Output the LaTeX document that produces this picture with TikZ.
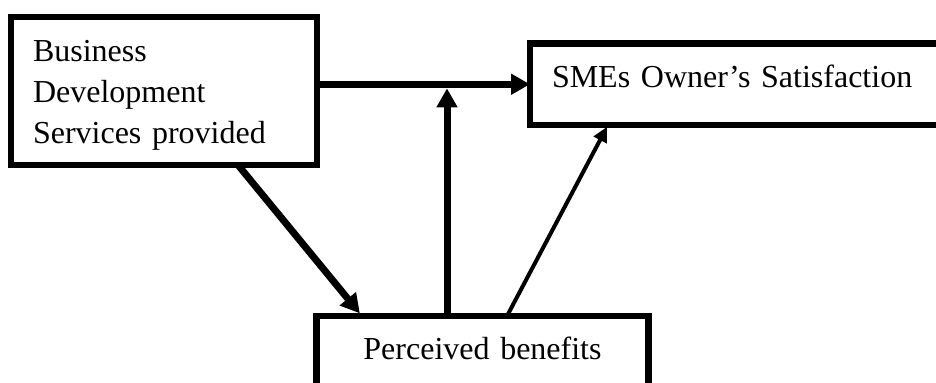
\documentclass[tikz,border=0pt]{standalone}
\usepackage{fontspec}
\setmainfont{Liberation Serif}
\usepackage{tikz}
\usetikzlibrary{calc}
\usetikzlibrary{arrows.meta}
\newcommand{\widthborder}{3.4pt}
\tikzset{
    common/.style={anchor=north west, draw, rectangle, line width=\widthborder, outer sep=0pt, inner xsep=11pt, inner ysep=0pt, align=left, font=\fontsize{16}{20.5}\selectfont},
    factor/.style={common, text width=131pt, text height=22.5pt, text depth=51.5pt},
    outcome/.style={common, text width=203pt, text height=22.25pt, text depth=18.5pt},
    mediator/.style={common, align=center, text width=144pt, text height=22pt, text depth=30pt},
    link/.style={line width=3.5pt, -{Triangle[length=9.5pt, width=10pt]}, shorten >=1.7pt},
    thinlink/.style={line width=2pt, -{Triangle[length=7.5pt, width=7pt]}, shorten >=1pt}
}
\begin{document}
\begin{tikzpicture}[x=0.5pt, y=-0.5pt]
          \clip (0,0) rectangle (936,383);

          \node[factor] (bds) at (11,17) {Business\\Development\\Services provided};
          \node[outcome] (sme) at (530,43.5) {SMEs Owner's Satisfaction};
          \node[mediator] (pb) at (316.5,316) {Perceived benefits};

          \coordinate (join) at (447,85);

          \draw[link, shorten >=0pt] (bds.east |- sme.west) -- (sme.west);
          \draw[link] (pb.north -| join) -- (join);
          \draw[link] ($(bds.south)+(74,0)$) -- ($(pb.north)+(-120.5,0)$);
          \draw[thinlink] ($(pb.north)+(24.5,0)$) -- ($(sme.south west)+(78,0)$);
        \end{tikzpicture}
\end{document}
